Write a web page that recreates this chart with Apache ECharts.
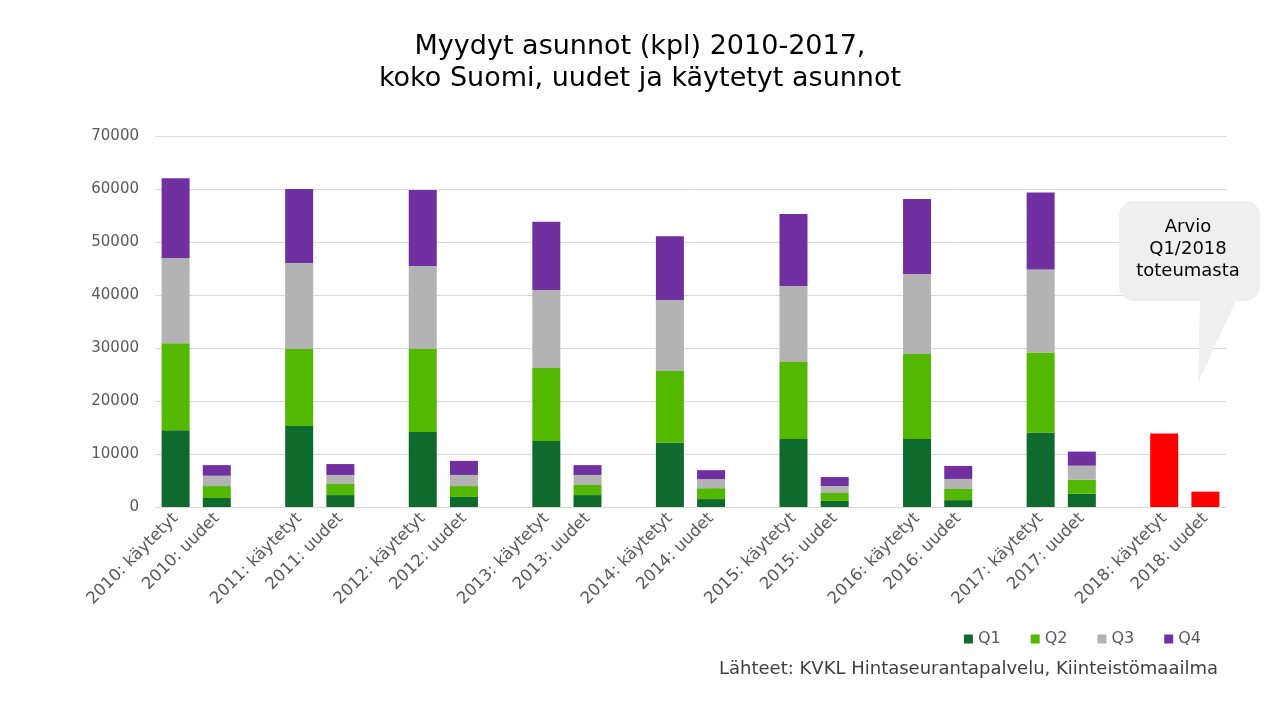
<!DOCTYPE html>
<html>
<head>
<meta charset="utf-8">
<script src="https://cdn.jsdelivr.net/npm/echarts@6/dist/echarts.min.js"></script>
<style>
html,body{margin:0;padding:0;background:#fff;}
#chart{width:1280px;height:720px;}
</style>
</head>
<body>
<div id="chart"></div>
<script>
const categories = [
  '2010: käytetyt','2010: uudet','',
  '2011: käytetyt','2011: uudet','',
  '2012: käytetyt','2012: uudet','',
  '2013: käytetyt','2013: uudet','',
  '2014: käytetyt','2014: uudet','',
  '2015: käytetyt','2015: uudet','',
  '2016: käytetyt','2016: uudet','',
  '2017: käytetyt','2017: uudet','',
  '2018: käytetyt','2018: uudet'
];
const q1 = [14500,1700,null, 15300,2250,null, 14150,1900,null, 12450,2250,null, 12100,1500,null, 12850,1150,null, 12850,1300,null, 14050,2500,null, null,null];
const q2 = [16400,2250,null, 14500,2100,null, 15650,2050,null, 13800,1900,null, 13550,2050,null, 14500,1500,null, 16000,2100,null, 15100,2650,null, null,null];
const q3 = [16100,1950,null, 16250,1700,null, 15650,2100,null, 14700,1900,null, 13400,1700,null, 14350,1300,null, 15100,1900,null, 15650,2650,null, null,null];
const q4 = [15050,2000,null, 13950,2050,null, 14350,2650,null, 12850,1850,null, 12050,1700,null, 13600,1700,null, 14150,2450,null, 14550,2650,null, null,null];
const arvio = [null,null,null, null,null,null, null,null,null, null,null,null, null,null,null, null,null,null, null,null,null, null,null,null, 13850,2900];
const yTicks = [0,10000,20000,30000,40000,50000,60000,70000];

const FONT = '"DejaVu Sans", Verdana, sans-serif';
const chart = echarts.init(document.getElementById('chart'));
function bar(name, data, color){
  return {name, type:'bar', stack:'s', data, barWidth:'68%',
    itemStyle:{color}, emphasis:{disabled:true}};
}
chart.setOption({
  backgroundColor:'#ffffff',
  animation:false,
  title:{
    text:'Myydyt asunnot (kpl) 2010-2017,\nkoko Suomi, uudet ja käytetyt asunnot',
    left:'center', top:26,
    textStyle:{fontFamily:FONT, fontSize:27, fontWeight:'normal', color:'#000', lineHeight:32}
  },
  legend:{
    data:['Q1','Q2','Q3','Q4'],
    right:74, top:626,
    itemWidth:9, itemHeight:9, itemGap:30,
    icon:'rect',
    textStyle:{fontFamily:FONT, fontSize:16, color:'#595959'}
  },
  grid:{left:155, right:54, top:136, bottom:213},
  xAxis:{
    type:'category', data:categories,
    axisLine:{lineStyle:{color:'#d9d9d9'}},
    axisTick:{show:false},
    axisLabel:{interval:0, rotate:45, fontFamily:FONT, fontSize:16.5, color:'#595959', margin:9}
  },
  yAxis:{
    type:'value', min:0, max:70000, interval:10000,
    axisLine:{show:false}, axisTick:{show:false},
    splitLine:{lineStyle:{color:'#d9d9d9'}},
    axisLabel:{fontFamily:FONT, fontSize:15, color:'#595959', margin:16,
      formatter:v=> yTicks.includes(v) ? String(v) : ''}
  },
  series:[
    bar('Q1', q1, '#0e6b2d'),
    bar('Q2', q2, '#52b800'),
    bar('Q3', q3, '#b3b3b3'),
    bar('Q4', q4, '#7030a0'),
    bar('Arvio', arvio, '#ff0000')
  ],
  graphic:[
    {type:'polygon', shape:{points:[[1200,298],[1237,298],[1198,383]]},
      style:{fill:'#efefef'}, z:10},
    {type:'rect', shape:{x:1119,y:201,width:141,height:100,r:15},
      style:{fill:'#efefef'}, z:10},
    {type:'text', x:1188, y:249, z:11,
      style:{text:'Arvio\nQ1/2018\ntoteumasta', fill:'#000', font:'18px '+FONT,
        align:'center', verticalAlign:'middle', lineHeight:22}},
    {type:'text', right:62, top:660,
      style:{text:'Lähteet: KVKL Hintaseurantapalvelu, Kiinteistömaailma', fill:'#404040',
        font:'18px '+FONT}}
  ]
});
</script>
</body>
</html>
